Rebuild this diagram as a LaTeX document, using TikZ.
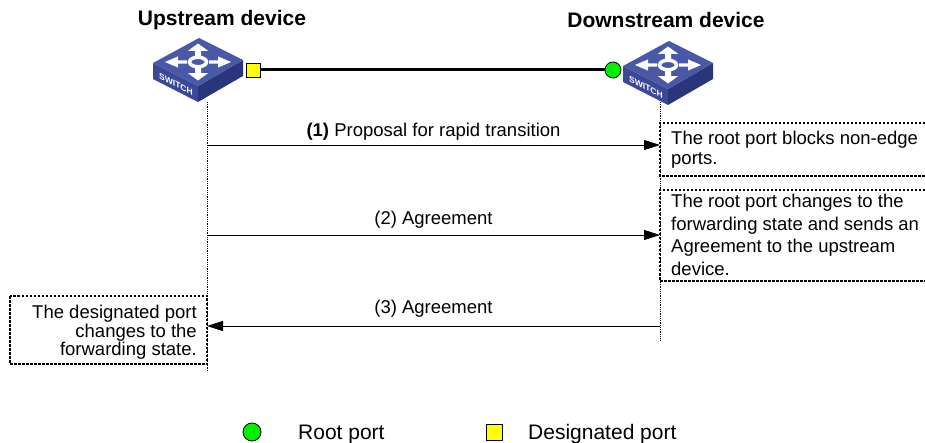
\documentclass[tikz,border=0pt]{standalone}
\usepackage{fontspec}
\setmainfont{Liberation Sans}
\usetikzlibrary{arrows.meta}
\definecolor{swtop}{RGB}{74,88,168}
\definecolor{swleft}{RGB}{58,72,150}
\definecolor{swright}{RGB}{42,54,124}
\definecolor{rootgreen}{RGB}{0,240,0}
\definecolor{desyellow}{RGB}{255,255,0}
\newcommand{\drawswitch}[2]{
  \begin{scope}[shift={(#1,#2)}]
    \fill[swleft] (-45,-1)--(0,-24)--(0,-40)--(-45,-17)--cycle;
    \fill[swright] (0,-24)--(45,2)--(45,-14)--(0,-40)--cycle;
    \fill[swtop] (-45,-1)--(1,24)--(45,2)--(0,-24)--cycle;
    \begin{scope}[yscale=.56]
      \draw[white,line width=3.5pt] (0,0) circle (8.5);
      \foreach \a in {0,90,180,270}{
        \fill[white,rotate=\a] (11,-3)--(20,-3)--(20,-10)--(33,0)--(20,10)--(20,3)--(11,3)--cycle;
      }
    \end{scope}
    \node[white,font=\bfseries\fontsize{8.5}{8.5}\selectfont,yslant=-.53] at (-22,-22) {SWITCH};
  \end{scope}
}

\begin{document}
\begin{tikzpicture}[x=1pt,y=1pt,
  life/.style={densely dotted,line width=.8pt},
  notebox/.style={dash pattern=on 2.5pt off 1.5pt,line width=1.2pt},
  msg/.style={line width=.8pt,-{Triangle[length=16pt,width=10pt]}},
  msgtext/.style={anchor=base,inner sep=0pt,font=\fontsize{18.5}{22}\selectfont},
  notetext/.style={inner sep=0pt,align=left}]
\useasboundingbox (0,0) rectangle (925,-443);
\node[font=\bfseries\fontsize{21}{24}\selectfont] (upname) at (222,-20) {Upstream device};
\node[font=\bfseries\fontsize{21}{24}\selectfont] (downname) at (666,-20) {Downstream device};
\drawswitch{198}{-62}
\drawswitch{668}{-65}
\node[draw,fill=desyellow,minimum size=14pt,inner sep=0pt,line width=.8pt] (dport) at (253,-70) {};
\node[draw,circle,fill=rootgreen,minimum size=16pt,inner sep=0pt,line width=.8pt] (rport) at (613,-70) {};
\draw[line width=3pt] (dport) -- (rport);
\coordinate (uptop) at (207,-102);
\coordinate (upend) at (207,-372);
\coordinate (dntop) at (660,-102);
\coordinate (dnend) at (660,-340);
\draw[life] (uptop) -- (upend);
\draw[life] (dntop) -- (dnend);
\foreach \n/\y in {1/145,2/235,3/326}{
  \coordinate (u\n) at (207,-\y);
  \coordinate (d\n) at (660,-\y);
}
\draw[msg] (u1) -- (d1) node[msgtext,midway,yshift=8pt] {\textbf{(1)} Proposal for rapid transition};
\draw[msg] (u2) -- (d2) node[msgtext,midway,yshift=10pt] {(2) Agreement};
\draw[msg] (d3) -- (u3) node[msgtext,midway,yshift=13pt] {(3) Agreement};
\draw[notebox] (925,-123) -- (660,-123) -- (660,-176) -- (925,-176);
\draw[notebox] (925,-190) -- (660,-190) -- (660,-281) -- (925,-281);
\draw[notebox] (10,-296) rectangle (207,-364);
\node[notetext,anchor=north west,font=\fontsize{18.5}{20}\selectfont] (blocknote) at (671,-131) {The root port blocks non-edge\\ports.};
\node[notetext,anchor=north west,font=\fontsize{18.5}{22.5}\selectfont] (fwdnote) at (671,-194) {The root port changes to the\\forwarding state and sends an\\Agreement to the upstream\\device.};
\node[notetext,align=right,anchor=north east,font=\fontsize{18.5}{18.5}\selectfont] (desnote) at (197,-305) {The designated port\\changes to the\\forwarding state.};
\node[draw,circle,fill=rootgreen,minimum size=18pt,inner sep=0pt,line width=.8pt] (rootkey) at (252,-432) {};
\node[anchor=base west,inner sep=0pt,font=\fontsize{21}{24}\selectfont] (rootlabel) at (298,-439) {Root port};
\node[draw,fill=desyellow,minimum size=16pt,inner sep=0pt,line width=.8pt] (deskey) at (494,-432) {};
\node[anchor=base west,inner sep=0pt,font=\fontsize{21}{24}\selectfont] (deslabel) at (528,-439) {Designated port};
\end{tikzpicture}
\end{document}
